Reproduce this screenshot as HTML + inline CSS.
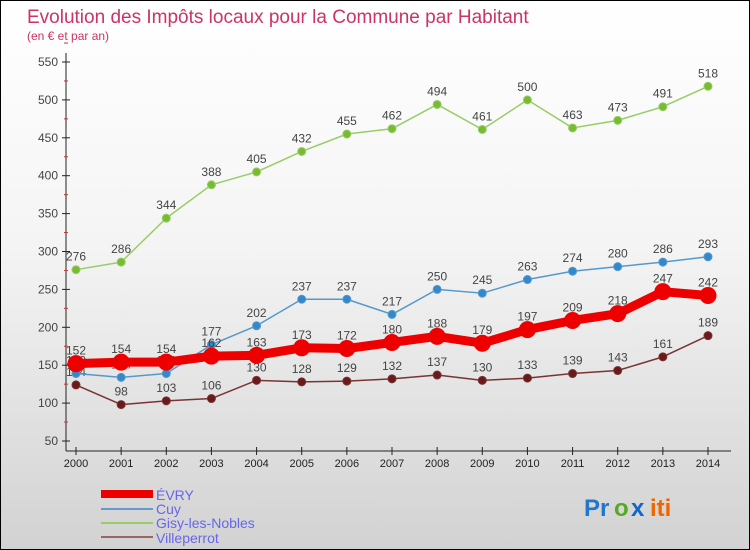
<!DOCTYPE html>
<html><head><meta charset="utf-8">
<style>
body{margin:0;padding:0}
#wrap{width:748px;height:548px;border:1px solid #000;background:linear-gradient(#ffffff 0%,#f4f4f4 45%,#d2d2d2 100%);position:relative;font-family:"Liberation Sans",sans-serif;overflow:hidden}
svg{position:absolute;left:0;top:0}
</style></head><body>
<div id="wrap">
<svg id="chart" width="750" height="550">
<text x="26" y="22" font-size="19" fill="#cc3366">Evolution des Impôts locaux pour la Commune par Habitant</text>
<text x="26" y="39" font-size="12" fill="#cc3366">(en € et par an)</text>
<g id="axes"></g><g id="series"></g>
<g>
<rect x="100" y="489" width="52" height="8" fill="#ee0000"/>
<text x="155" y="499" font-size="14" fill="#6666ee">ÉVRY</text>
<rect x="100" y="507" width="52" height="2" fill="#6699cc"/>
<text x="155" y="513" font-size="14" fill="#6666ee">Cuy</text>
<rect x="100" y="521" width="52" height="2" fill="#99cc66"/>
<text x="155" y="527" font-size="14" fill="#6666ee">Gisy-les-Nobles</text>
<rect x="100" y="535" width="52" height="2" fill="#996666"/>
<text x="155" y="542" font-size="14" fill="#6666ee">Villeperrot</text>
</g>
<g font-size="24" font-weight="bold">
<text x="583" y="515" fill="#2277cc">Pr</text><text x="613" y="515" fill="#55aa22">o</text><text x="630" y="515" fill="#1166cc">x</text><text x="649" y="515" fill="#ee6600">iti</text>
</g>
</svg>
</div>
<script>
const years=[2000,2001,2002,2003,2004,2005,2006,2007,2008,2009,2010,2011,2012,2013,2014];
const yTicks=[50,100,150,200,250,300,350,400,450,500,550];
const evry=[152,154,154,162,163,173,172,180,188,179,197,209,218,247,242];
const cuy=[139,134,139,177,202,237,237,217,250,245,263,274,280,286,293];
const gisy=[276,286,344,388,405,432,455,462,494,461,500,463,473,491,518];
const villeperrot=[124,98,103,106,130,128,129,132,137,130,133,139,143,161,189];
const NS="http://www.w3.org/2000/svg";
const x0=75,x1=707,yBase=440,yTop=61;
function X(i){return x0+(x1-x0)*i/(years.length-1);}
function Y(v){return yBase-(v-50)*(yBase-yTop)/500;}
function mk(t,a,p){const e=document.createElementNS(NS,t);for(const k in a)e.setAttribute(k,a[k]);p.appendChild(e);return e;}
const ax=document.getElementById('axes');
let l=mk('line',{x1:65,y1:52,x2:65,y2:450,stroke:'#222','stroke-width':1},ax);


l=mk('line',{x1:65,y1:450,x2:730,y2:450,stroke:'#222','stroke-width':1},ax);


yTicks.forEach(v=>{
 mk('line',{x1:61,y1:Y(v),x2:69,y2:Y(v),stroke:'#222'},ax);
 mk('line',{x1:63,y1:Y(v+25),x2:67,y2:Y(v+25),stroke:'#cc3333'},ax);
 const t=mk('text',{x:57,y:Y(v)+4,'font-size':12,fill:'#444','text-anchor':'end'},ax);
 t.textContent=v;
 
 
});
years.forEach((yr,i)=>{
 mk('line',{x1:X(i),y1:446,x2:X(i),y2:454,stroke:'#222'},ax);
 const t=mk('text',{x:X(i),y:466,'font-size':11,fill:'#222','text-anchor':'middle'},ax);
 t.textContent=yr;
 
 
});
const sg=document.getElementById('series');
function draw(data,name,color,w,r,dot){
 const g=mk('g',{},sg);
 
 
 const p=mk('polyline',{points:data.map((v,i)=>X(i)+','+Y(v)).join(' '),fill:'none',stroke:color,'stroke-width':w,'stroke-linejoin':'round'},g);
 
 
 data.forEach((v,i)=>{
  const c=mk('circle',{cx:X(i),cy:Y(v),r:r,fill:dot,stroke:color,'stroke-width':1},g);
  
  
  const t=mk('text',{x:X(i),y:Y(v)-9,'font-size':12,fill:'#444','text-anchor':'middle'},g);
  t.textContent=v;
  
  
 });
}
draw(villeperrot,'villeperrot','#7a3333',1.5,4,'#6a1a1a');
draw(cuy,'cuy','#5599cc',1.5,4,'#3388cc');
draw(gisy,'gisy','#99cc66',1.5,4,'#77bb33');
draw(evry,'evry','#ee0000',9,8,'#ee0000');
</script>
</body></html>
